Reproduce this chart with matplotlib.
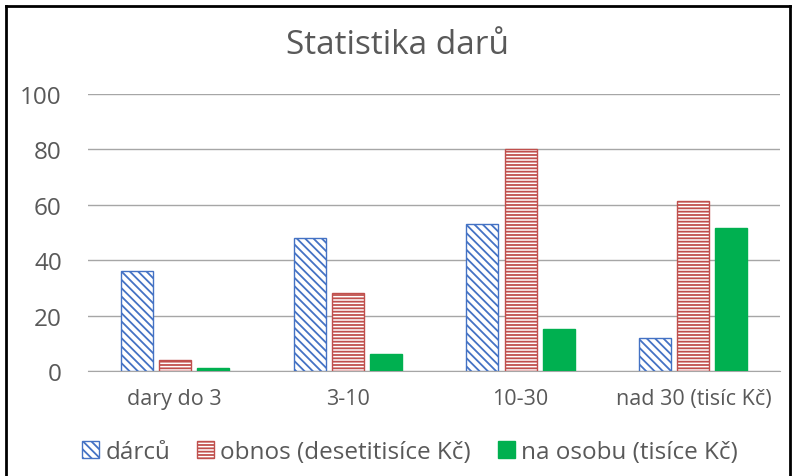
import numpy as np
import matplotlib.pyplot as plt
from matplotlib.lines import Line2D

categories = ['dary do 3', '3-10', '10-30', 'nad 30 (tisíc Kč)']
darcu = [36, 48, 53, 12]
obnos = [4, 28, 80, 61.5]
na_osobu = [1, 6, 15, 51.5]
series_names = ['dárců', 'obnos (desetitisíce Kč)', 'na osobu (tisíce Kč)']

plt.rcParams['font.family'] = ['Open Sans', 'DejaVu Sans']
plt.rcParams['hatch.linewidth'] = 1.3
grey = '#595959'

fig = plt.figure(figsize=(7.95, 4.77), dpi=100)
ax = fig.add_axes([0.111, 0.22, 0.870, 0.581])

x = np.arange(len(categories))
w = 0.185
step = 0.22

ax.bar(x - step, darcu, w, facecolor='white', edgecolor='#4472C4',
       hatch='\\\\\\\\', linewidth=1, label=series_names[0], zorder=3)
ax.bar(x, obnos, w, facecolor='white', edgecolor='#C0504D',
       hatch='-----', linewidth=1, label=series_names[1], zorder=3)
ax.bar(x + step, na_osobu, w, facecolor='#00B050', edgecolor='#00B050',
       linewidth=1, label=series_names[2], zorder=3)

ax.set_xlim(-0.5, len(categories) - 0.5)
ax.set_ylim(0, 100)
ax.set_yticks(range(0, 101, 20))
ax.yaxis.grid(True, color='#A6A6A6', linewidth=1)
ax.set_axisbelow(True)
for s in ['top', 'right', 'left']:
    ax.spines[s].set_visible(False)
ax.spines['bottom'].set_color('#A6A6A6')
ax.tick_params(axis='y', length=0, colors=grey, labelsize=17.5, pad=19)
ax.tick_params(axis='x', length=0, colors=grey, labelsize=15.5, pad=12)
ax.set_xticks(x)
ax.set_xticklabels(categories)

fig.text(0.5, 0.905, 'Statistika darů', ha='center', va='center',
         fontsize=24, color=grey)

leg = ax.legend(loc='upper center', bbox_to_anchor=(0.465, -0.17), ncol=3,
                frameon=False, fontsize=17.5, handlelength=0.7, handleheight=0.7,
                handletextpad=0.25, columnspacing=1.1)
for t in leg.get_texts():
    t.set_color(grey)

# black frame around the image
fig.add_artist(Line2D([0.007, 0.007], [0, 0.985], color='black', lw=2, transform=fig.transFigure))
fig.add_artist(Line2D([0.007, 0.994], [0.985, 0.985], color='black', lw=2, transform=fig.transFigure))
fig.add_artist(Line2D([0.994, 0.994], [0, 0.985], color='black', lw=2, transform=fig.transFigure))

fig.savefig('out.png', dpi=100)
